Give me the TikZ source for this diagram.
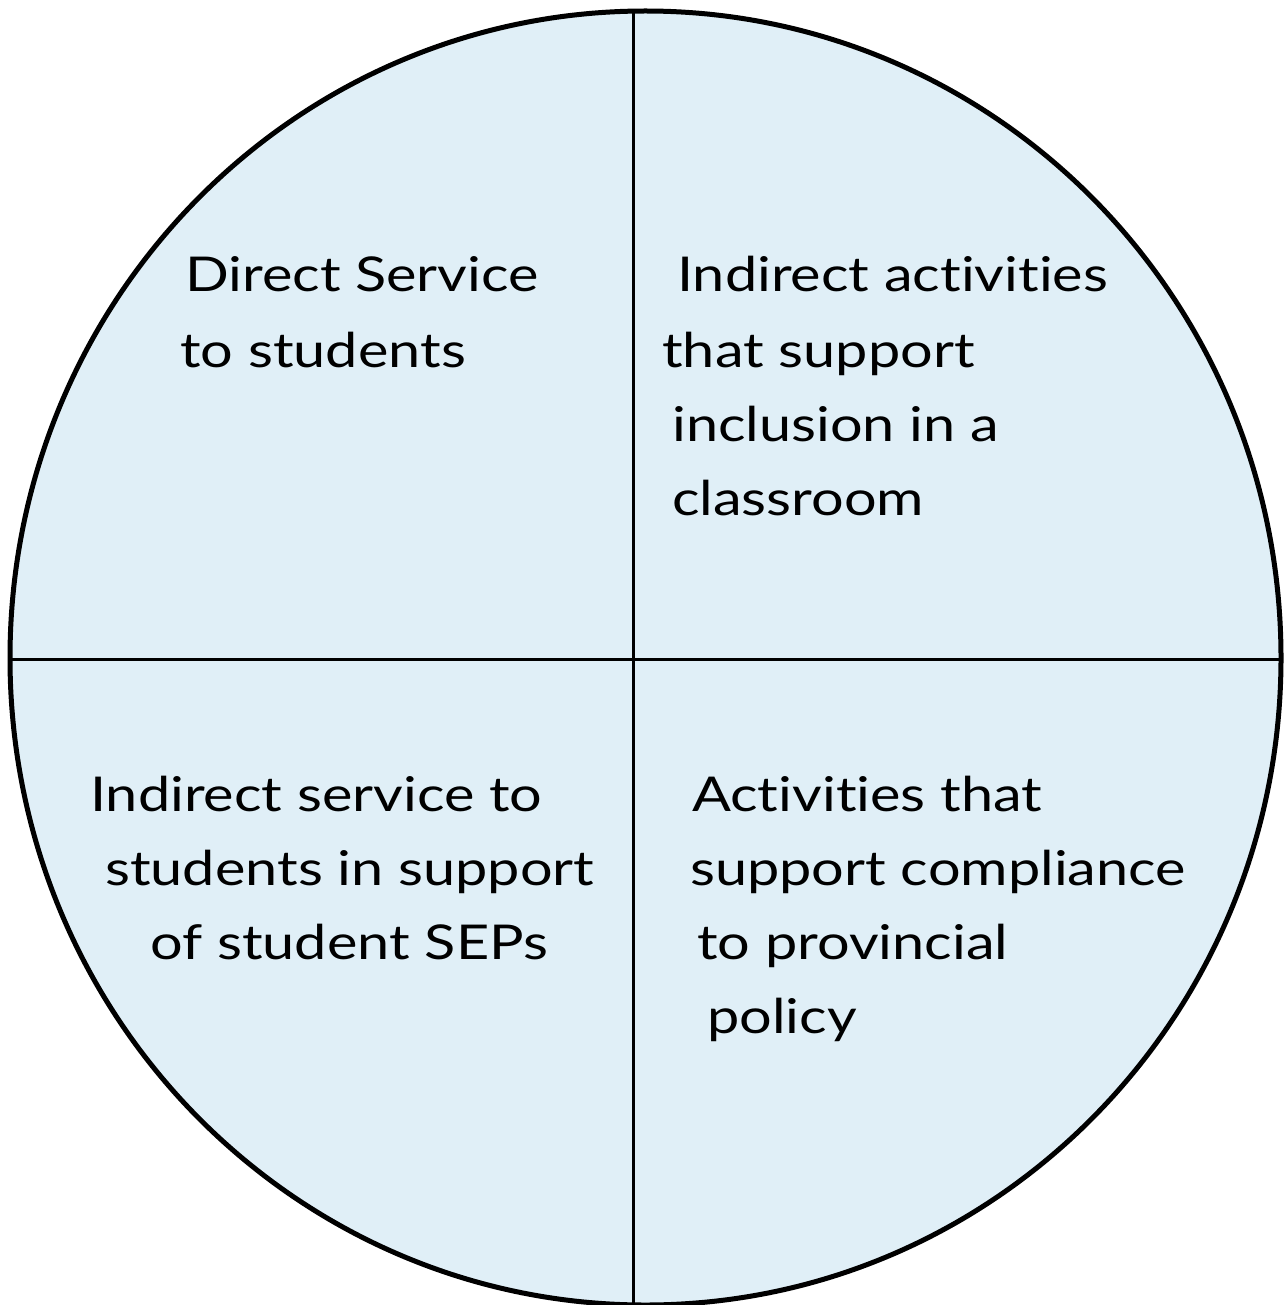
\documentclass[tikz,border=0pt]{standalone}
\usepackage{fontspec}
\setmainfont{Lato}[FakeStretch=1.2,Ligatures=NoCommon]
\definecolor{qfill}{RGB}{224,239,247}
\begin{document}
\begin{tikzpicture}[x=1pt,y=-1pt,
  lbl/.style={anchor=base west,inner sep=0pt,font=\fontsize{48}{57}\selectfont}]
\useasboundingbox (0,0) rectangle (1286,1305);
\fill[qfill] (645.5,658) ellipse [x radius=635.5, y radius=647];
\begin{scope}
\clip (645.5,658) ellipse [x radius=635.5, y radius=647];
\draw[line width=3pt] (633,0) -- (633,1305);
\draw[line width=3pt] (0,659) -- (1286,659);
\end{scope}
\draw[line width=5pt] (645.5,658) ellipse [x radius=635.5, y radius=647];
\node[lbl] (a1) at (185,292) {Direct Service};
\node[lbl] (a2) at (180,367) {to students};
\node[lbl] (b1) at (677,292) {Indirect activities};
\node[lbl] (b2) at (662,367) {that support};
\node[lbl] (b3) at (672,441) {inclusion in a};
\node[lbl] (b4) at (672,515) {classroom};
\node[lbl] (c1) at (90,811) {Indirect service to};
\node[lbl] (c2) at (105,885) {students in support};
\node[lbl] (c3) at (150,959) {of student SEPs};
\node[lbl] (d1) at (692,811) {Activities that};
\node[lbl] (d2) at (690,885) {support compliance};
\node[lbl] (d3) at (697,959) {to provincial};
\node[lbl] (d4) at (707,1033) {policy};
\end{tikzpicture}
\end{document}
